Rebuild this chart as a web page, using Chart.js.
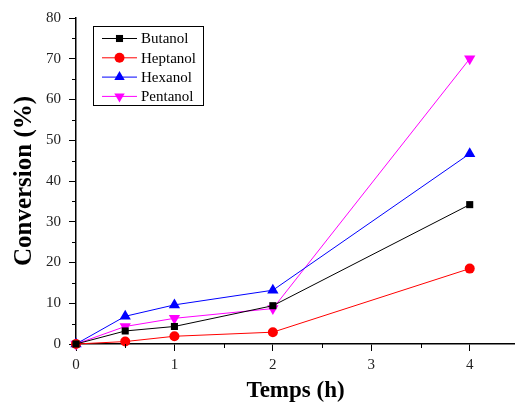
<!DOCTYPE html>
<html><head><meta charset="utf-8">
<script src="https://cdn.jsdelivr.net/npm/chart.js@4/dist/chart.umd.min.js"></script>
<style>html,body{margin:0;padding:0;background:#fff;overflow:hidden}</style>
</head><body><canvas id="c" width="515" height="405"></canvas>
<script>
const times = [0, 0.5, 1, 2, 4];
const butanol = [0, 3.2, 4.3, 9.4, 34.2];
const heptanol = [0, 0.6, 1.9, 2.9, 18.5];
const hexanol = [0, 6.8, 9.6, 13.2, 46.7];
const pentanol = [0, 4.3, 6.3, 8.7, 70.0];
const seriesNames = ['Butanol', 'Heptanol', 'Hexanol', 'Pentanol'];
const xTicks = [0, 1, 2, 3, 4];
const yTicks = [0, 10, 20, 30, 40, 50, 60, 70, 80];

const FONT = "'Liberation Serif', 'Times New Roman', serif";
function pts(arr){ return times.map((t,i)=>({x:t,y:arr[i]})); }
function ds(label, data, color, style, rot){
  return {label, data: pts(data), borderColor: color, backgroundColor: color,
    borderWidth: 1, pointStyle: style, pointRotation: rot||0, pointRadius: style==='triangle'?6.5:5,
    pointBorderWidth: 0, pointHoverRadius: 5, tension: 0, clip: 8};
}

const minorTicks = {
  id: 'minorTicks',
  afterDraw(chart){
    const ctx = chart.ctx, x = chart.scales.x, y = chart.scales.y;
    ctx.save(); ctx.strokeStyle = '#000'; ctx.lineWidth = 1;
    for (let v = 0.5; v <= x.max; v += 1) {
      const px = Math.round(x.getPixelForValue(v)) + 0.5;
      ctx.beginPath(); ctx.moveTo(px, y.bottom); ctx.lineTo(px, y.bottom + 4); ctx.stroke();
    }
    for (let v = 5; v <= y.max; v += 10) {
      const py = Math.round(y.getPixelForValue(v)) + 0.5;
      ctx.beginPath(); ctx.moveTo(x.left, py); ctx.lineTo(x.left - 4, py); ctx.stroke();
    }
    ctx.restore();
  }
};

const boxLegend = {
  id: 'boxLegend',
  afterDraw(chart){
    const ctx = chart.ctx;
    const left = 93, top = 26, w = 110, h = 79;
    ctx.save();
    ctx.strokeStyle = '#000'; ctx.lineWidth = 1;
    ctx.strokeRect(left + 0.5, top + 0.5, w, h);
    ctx.font = "15px " + FONT; ctx.textBaseline = 'middle'; ctx.fillStyle = '#000';
    chart.data.datasets.forEach((d, i) => {
      const cy = top + 12.5 + i * 19.3;
      ctx.strokeStyle = d.borderColor; ctx.lineWidth = 1;
      ctx.beginPath(); ctx.moveTo(102, cy); ctx.lineTo(137, cy); ctx.stroke();
      ctx.fillStyle = d.backgroundColor;
      Chart.helpers.drawPoint(ctx, {pointStyle: d.pointStyle, rotation: d.pointRotation, radius: d.pointStyle==='triangle'?6:5, borderWidth: 0}, 119.5, cy);
      ctx.fillStyle = '#000';
      ctx.fillText(d.label, 141, cy + 1);
    });
    ctx.restore();
  }
};

new Chart(document.getElementById('c'), {
  type: 'line',
  data: { datasets: [
    ds(seriesNames[0], butanol, '#000000', 'rect'),
    ds(seriesNames[1], heptanol, '#ff0000', 'circle'),
    ds(seriesNames[2], hexanol, '#0000ff', 'triangle'),
    ds(seriesNames[3], pentanol, '#ff00ff', 'triangle', 180)
  ]},
  options: {
    responsive: false, animation: false,
    layout: { autoPadding: false, padding: { top: 18, right: 0, left: 0, bottom: 0 } },
    plugins: { legend: { display: false }, tooltip: { enabled: false } },
    scales: {
      x: {
        type: 'linear', min: 0, max: 4.46,
        afterBuildTicks: s => { s.ticks = xTicks.map(v => ({value: v})); },
        afterFit: s => { s.height = 61; s.paddingRight = 0; s.paddingLeft = 0; },
        border: { color: '#000', width: 1.5 },
        grid: { drawOnChartArea: false, drawTicks: true, tickLength: 7, color: '#000' },
        ticks: { font: { family: FONT, size: 15 }, color: '#222', padding: 5, maxRotation: 0 },
        title: { display: true, text: 'Temps (h)', font: { family: FONT, size: 23, weight: 'bold' }, color: '#000', padding: { top: 4, bottom: 0 } }
      },
      y: {
        type: 'linear', min: 0, max: 80,
        afterBuildTicks: s => { s.ticks = yTicks.map(v => ({value: v})); },
        afterFit: s => { s.width = 76; },
        border: { color: '#000', width: 1.5 },
        grid: { drawOnChartArea: false, drawTicks: true, tickLength: 7, color: '#000' },
        ticks: { font: { family: FONT, size: 15 }, color: '#222', padding: 8 },
        title: { display: true, text: 'Conversion (%)', font: { family: FONT, size: 25, weight: 'bold' }, color: '#000', padding: { top: 10, bottom: 0 } }
      }
    }
  },
  plugins: [minorTicks, boxLegend]
});
</script></body></html>
